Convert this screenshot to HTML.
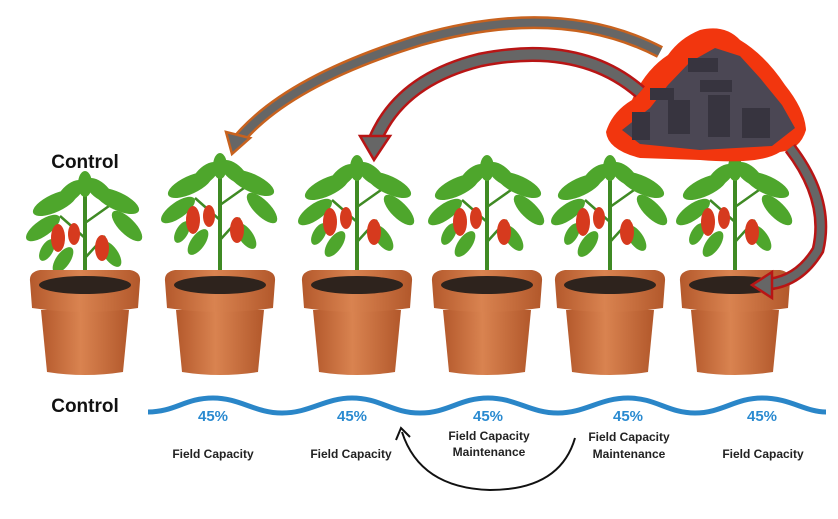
<!DOCTYPE html>
<html><head><style>
html,body{margin:0;padding:0;background:#fff;}
svg{display:block;}
text{font-family:"Liberation Sans",sans-serif;font-weight:bold;}
</style></head><body>
<svg width="838" height="519" viewBox="0 0 838 519" xmlns="http://www.w3.org/2000/svg">
<defs>
<linearGradient id="pot" x1="0" x2="1">
<stop offset="0" stop-color="#b4592c"/><stop offset="0.45" stop-color="#d98350"/><stop offset="1" stop-color="#b2582b"/>
</linearGradient>
<g id="pot1">
<path d="M-44,310 L-38,372 Q0,378 38,372 L44,310 Z" fill="url(#pot)"/>
<path d="M-55,281 Q-56,272 -45,270 L45,270 Q56,272 55,281 L53,308 Q0,316 -53,308 Z" fill="url(#pot)"/>
<ellipse cx="0" cy="285" rx="46" ry="9" fill="#2e231d"/>
</g>
<g id="plant">
<path d="M0,284 L0,175" stroke="#3f8a24" stroke-width="4" fill="none"/>
<path d="M0,230 L-25,208 M0,215 L24,198 M0,250 L20,228" stroke="#3f8a24" stroke-width="2.5" fill="none"/>
<g fill="#4ea62c">
<ellipse cx="-30" cy="195" rx="24" ry="9" transform="rotate(-25 -30 195)"/>
<ellipse cx="32" cy="193" rx="24" ry="9" transform="rotate(25 32 193)"/>
<ellipse cx="-14" cy="184" rx="16" ry="8" transform="rotate(-40 -14 184)"/>
<ellipse cx="14" cy="182" rx="16" ry="8" transform="rotate(40 14 182)"/>
<ellipse cx="0" cy="176" rx="7" ry="13"/>
<ellipse cx="-42" cy="220" rx="20" ry="8" transform="rotate(-35 -42 220)"/>
<ellipse cx="42" cy="218" rx="20" ry="8" transform="rotate(45 42 218)"/>
<ellipse cx="-22" cy="252" rx="15" ry="7" transform="rotate(-55 -22 252)"/>
<ellipse cx="26" cy="246" rx="15" ry="7" transform="rotate(55 26 246)"/>
<ellipse cx="-38" cy="242" rx="12" ry="6" transform="rotate(-60 -38 242)"/>
</g>
<g fill="#d63a1e">
<ellipse cx="-27" cy="230" rx="7" ry="14"/>
<ellipse cx="-11" cy="226" rx="6" ry="11"/>
<ellipse cx="17" cy="240" rx="7" ry="13"/>
</g>
</g>
</defs>

<text x="85" y="168" font-size="19" text-anchor="middle" fill="#111">Control</text>
<text x="85" y="412" font-size="19" text-anchor="middle" fill="#111">Control</text>

<use href="#plant" x="85" y="8"/><use href="#pot1" x="85" y="0"/>
<use href="#plant" x="220" y="-10"/><use href="#pot1" x="220" y="0"/>
<use href="#plant" x="357" y="-8"/><use href="#pot1" x="357" y="0"/>
<use href="#plant" x="487" y="-8"/><use href="#pot1" x="487" y="0"/>
<use href="#plant" x="610" y="-8"/><use href="#pot1" x="610" y="0"/>
<use href="#plant" x="735" y="-8"/><use href="#pot1" x="735" y="0"/>

<!-- charcoal -->
<path d="M606,132 Q612,112 632,100 Q645,70 668,55 Q680,38 700,30 Q725,24 740,40 Q765,55 785,85 Q805,110 806,130 Q800,150 780,152 Q760,165 700,160 L640,158 Q608,150 606,132 Z" fill="#f2360e"/>
<polygon points="622,130 650,108 668,85 690,62 715,48 740,56 760,78 782,105 795,128 772,146 700,150 640,144" fill="#4b4754"/>
<g fill="#37343f">
<rect x="632" y="112" width="18" height="28"/><rect x="668" y="100" width="22" height="34"/><rect x="708" y="95" width="22" height="42"/><rect x="742" y="108" width="28" height="30"/><rect x="688" y="58" width="30" height="14"/><rect x="700" y="80" width="32" height="12"/><rect x="650" y="88" width="24" height="12"/>
</g>

<!-- arrows -->
<path d="M660,52 Q560,0 420,40 Q290,80 240,138" fill="none" stroke="#c8621e" stroke-width="13"/>
<path d="M660,52 Q560,0 420,40 Q290,80 240,138" fill="none" stroke="#666" stroke-width="8"/>
<polygon points="226,132 250,138 232,154" fill="#666" stroke="#c8621e" stroke-width="2.5"/>
<path d="M640,92 Q580,40 480,60 Q400,80 375,140" fill="none" stroke="#b81515" stroke-width="15"/>
<path d="M640,92 Q580,40 480,60 Q400,80 375,140" fill="none" stroke="#666" stroke-width="10"/>
<polygon points="360,136 390,136 374,160" fill="#666" stroke="#b81515" stroke-width="2.5"/>
<path d="M790,148 Q830,200 818,250 Q800,280 770,284" fill="none" stroke="#b81515" stroke-width="13"/>
<path d="M790,148 Q830,200 818,250 Q800,280 770,284" fill="none" stroke="#666" stroke-width="8"/>
<polygon points="772,272 772,298 752,285" fill="#666" stroke="#b81515" stroke-width="2.5"/>

<!-- wave -->
<path d="M148,412 C175,412 185,398 213,398 C240,398 255,413 282,413 C310,413 325,398 352,398 C380,398 392,413 420,413 C448,413 460,398 488,398 C516,398 530,413 558,413 C585,413 600,398 628,398 C656,398 668,413 695,413 C722,413 735,398 762,398 C790,398 805,412 826,412" fill="none" stroke="#2a86c8" stroke-width="5"/>
<g fill="#2a8ad0" font-size="15" text-anchor="middle">
<text x="213" y="421">45%</text><text x="352" y="421">45%</text><text x="488" y="421">45%</text><text x="628" y="421">45%</text><text x="762" y="421">45%</text>
</g>
<g fill="#222" font-size="12" text-anchor="middle">
<text x="213" y="458">Field Capacity</text>
<text x="351" y="458">Field Capacity</text>
<text x="489" y="440">Field Capacity</text><text x="489" y="456">Maintenance</text>
<text x="629" y="441">Field Capacity</text><text x="629" y="458">Maintenance</text>
<text x="763" y="458">Field Capacity</text>
</g>
<path d="M575,438 Q560,490 490,490 Q420,488 402,432" fill="none" stroke="#111" stroke-width="2"/>
<path d="M396,440 L401,428 L410,437" fill="none" stroke="#111" stroke-width="2"/>
</svg>
</body></html>
